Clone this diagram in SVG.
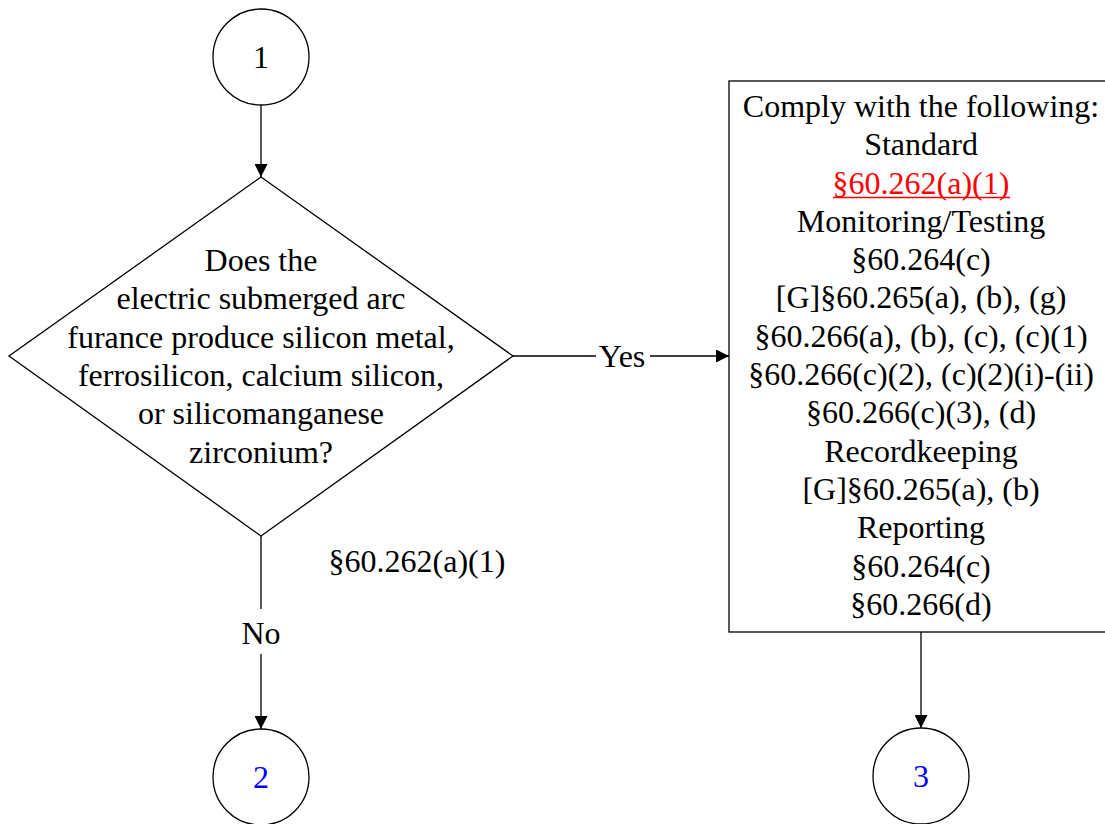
<svg xmlns="http://www.w3.org/2000/svg" width="1105" height="824" viewBox="0 0 1105 824">
<style>
.s{fill:#fff;stroke:#000;stroke-width:1.3}
.t{font-family:"Liberation Serif","Times New Roman",serif;font-size:32px;text-anchor:middle;fill:#000}
.b{fill:#0000ff}
.r{fill:#ff0000}
.c{stroke:#000;stroke-width:1.3;fill:none}
</style>
<defs>
<marker id="a" viewBox="0 0 10 10" refX="10" refY="5" markerWidth="13" markerHeight="13" markerUnits="userSpaceOnUse" orient="auto">
<path d="M0,0L10,5L0,10z" fill="#000"/>
</marker>
</defs>
<g id="connectors">
<line class="c" x1="261" y1="105" x2="261" y2="177" marker-end="url(#a)"/>
<path class="c" d="M513,356H596M650,356H729" marker-end="url(#a)"/>
<path class="c" d="M261,536V609M261,654V729" marker-end="url(#a)"/>
<line class="c" x1="921" y1="632" x2="921" y2="728" marker-end="url(#a)"/>
<text class="t" x="622" y="367">Yes</text>
<text class="t" x="261" y="644">No</text>
<text class="t" x="417" y="572">§60.262(a)(1)</text>
</g>
<g id="node1">
<circle class="s" cx="261" cy="57" r="48"/>
<text class="t" x="261" y="68">1</text>
</g>
<g id="decision">
<polygon class="s" points="261,177 513,356 261,536 9,356"/>
<text class="t" x="261" y="271">Does the</text>
<text class="t" x="261" y="309">electric submerged arc</text>
<text class="t" x="261" y="348">furance produce silicon metal,</text>
<text class="t" x="261" y="386">ferrosilicon, calcium silicon,</text>
<text class="t" x="261" y="424">or silicomanganese</text>
<text class="t" x="261" y="463">zirconium?</text>
</g>
<g id="comply">
<rect class="s" x="729" y="81" width="384" height="551"/>
<text class="t" x="921" y="117">Comply with the following:</text>
<text class="t" x="921" y="155">Standard</text>
<text class="t r" x="921" y="194">§60.262(a)(1)</text>
<line x1="833" y1="197.5" x2="1010" y2="197.5" stroke="#ff0000" stroke-width="1.5"/>
<text class="t" x="921" y="232">Monitoring/Testing</text>
<text class="t" x="921" y="270">§60.264(c)</text>
<text class="t" x="921" y="308">[G]§60.265(a), (b), (g)</text>
<text class="t" x="921" y="347">§60.266(a), (b), (c), (c)(1)</text>
<text class="t" x="921" y="385">§60.266(c)(2), (c)(2)(i)-(ii)</text>
<text class="t" x="921" y="423">§60.266(c)(3), (d)</text>
<text class="t" x="921" y="462">Recordkeeping</text>
<text class="t" x="921" y="500">[G]§60.265(a), (b)</text>
<text class="t" x="921" y="538">Reporting</text>
<text class="t" x="921" y="577">§60.264(c)</text>
<text class="t" x="921" y="615">§60.266(d)</text>
</g>
<g id="node2">
<circle class="s" cx="261" cy="777" r="48"/>
<text class="t b" x="261" y="788">2</text>
</g>
<g id="node3">
<circle class="s" cx="921" cy="776" r="48"/>
<text class="t b" x="921" y="787">3</text>
</g>
</svg>
